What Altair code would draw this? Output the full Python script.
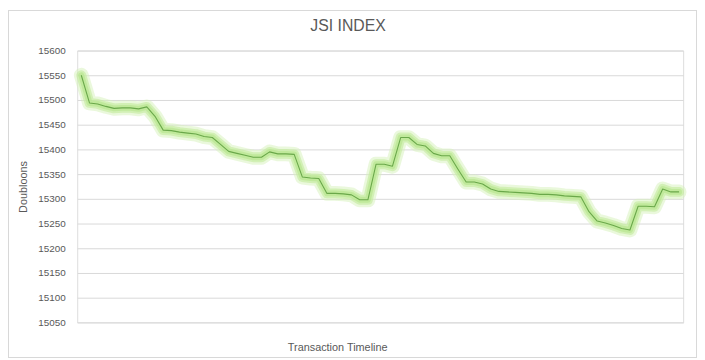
import altair as alt
import pandas as pd

# JSI index values per transaction
jsi_values = [
    15550, 15494, 15492, 15487, 15483, 15484, 15484, 15482, 15486, 15467,
    15439, 15438, 15435, 15433, 15431, 15426, 15424, 15410, 15396, 15392,
    15388, 15384, 15384, 15395, 15391, 15391, 15390, 15344, 15342, 15341,
    15311, 15311, 15310, 15308, 15298, 15298, 15370, 15370, 15366, 15424,
    15424, 15410, 15407, 15392, 15387, 15387, 15360, 15334, 15334, 15330,
    15320, 15315, 15314, 15313, 15312, 15311, 15309, 15309, 15308, 15306,
    15305, 15304, 15274, 15255, 15251, 15246, 15240, 15237, 15285, 15285,
    15284, 15320, 15314, 15314,
]
transactions = list(range(len(jsi_values)))
y_ticks = [15050, 15100, 15150, 15200, 15250, 15300, 15350, 15400,
           15450, 15500, 15550, 15600]
y_domain = [15050, 15600]
chart_title = "JSI INDEX"

df = pd.DataFrame({"Transaction": transactions, "Doubloons": jsi_values})

W, H = 613, 275
FONT = "Liberation Sans"
GRAY = "#595959"

x_enc = alt.X(
    "Transaction:Q",
    scale=alt.Scale(domain=[-0.5, len(jsi_values) - 0.5], nice=False, zero=False),
    axis=alt.Axis(
        title="Transaction Timeline", labels=False, ticks=False, domain=False,
        grid=False, titleFont=FONT, titleFontSize=11, titleFontWeight="normal",
        titleColor=GRAY, titleX=263, titleY=28, titleBaseline="alphabetic",
        titleAnchor="start", titleAlign="center",
    ),
)
y_enc = alt.Y(
    "Doubloons:Q",
    scale=alt.Scale(domain=y_domain, nice=False, zero=False),
    axis=alt.Axis(
        title="Doubloons", values=y_ticks, format="d", ticks=False, domain=False,
        grid=True, gridColor="#d9d9d9", gridWidth=1,
        labelFont=FONT, labelFontSize=10, labelColor=GRAY, labelPadding=12,
        titleFont=FONT, titleFontSize=11, titleFontWeight="normal",
        titleColor=GRAY, titlePadding=9,
    ),
)

base = alt.Chart(df).encode(x=x_enc, y=y_enc)

glow_outer = base.mark_line(
    color="#d5f2ba", strokeWidth=15, opacity=0.5, strokeJoin="round", strokeCap="round"
)
glow_mid = base.mark_line(
    color="#c4eb9f", strokeWidth=10, opacity=0.65, strokeJoin="round", strokeCap="round"
)
glow_inner = base.mark_line(
    color="#b4e48a", strokeWidth=6, opacity=0.6, strokeJoin="round", strokeCap="round"
)
core = base.mark_line(color="#6aa84a", strokeWidth=1.1, strokeJoin="round")

frame = alt.Chart(df).mark_rect(
    fill=None, stroke="#d9d9d9", strokeWidth=1, clip=False
).encode(
    x=alt.value(-69.5), x2=alt.value(W + 13.5),
    y=alt.value(-40.5), y2=alt.value(H + 35.5),
)

title_text = alt.Chart(pd.DataFrame({"t": [chart_title]})).mark_text(
    font=FONT, fontSize=16, color=GRAY, align="center", baseline="alphabetic"
).encode(text="t:N", x=alt.value(274), y=alt.value(-20))

chart = alt.layer(frame, glow_outer, glow_mid, glow_inner, core, title_text).properties(
    width=W,
    height=H,
    autosize=alt.AutoSizeParams(type="none"),
    padding={"left": 70, "top": 41, "right": 14, "bottom": 36},
).configure_view(stroke=None).configure(background="white")

chart.save("out.html", embed_options={"renderer": "svg", "actions": False})
